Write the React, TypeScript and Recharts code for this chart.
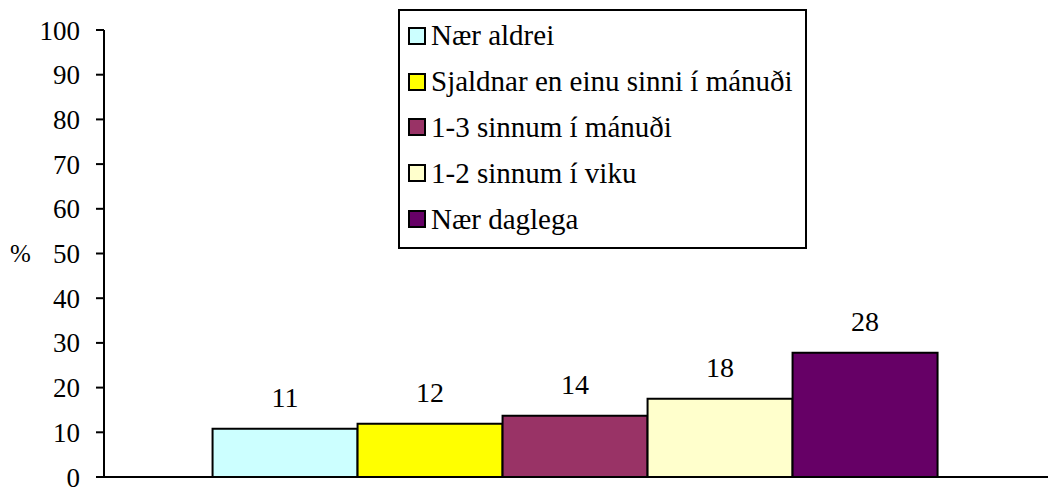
import { BarChart, Bar, XAxis, YAxis, LabelList, Legend } from "recharts";

const seriesNames = [
  "Nær aldrei",
  "Sjaldnar en einu sinni í mánuði",
  "1-3 sinnum í mánuði",
  "1-2 sinnum í viku",
  "Nær daglega",
];
const seriesKeys = ["s0", "s1", "s2", "s3", "s4"];
const seriesValues = [10.8, 11.9, 13.7, 17.5, 27.8];
const seriesColors = ["#CCFFFF", "#FFFF00", "#993366", "#FFFFCC", "#660066"];
const yTicks = [0, 10, 20, 30, 40, 50, 60, 70, 80, 90, 100];

const row: Record<string, number | string> = { name: "" };
seriesKeys.forEach((k, i) => { row[k] = seriesValues[i]; });
const data = [row];

const FONT = "'Liberation Serif', 'Times New Roman', serif";

const ValueLabel = (props: any) => {
  const { x, y, width, value } = props;
  return (
    <text x={x + width / 2} y={y - 22} textAnchor="middle" fontFamily={FONT} fontSize={28} fill="#000">
      {Math.round(value)}
    </text>
  );
};

const LegendBox = () => (
  <div style={{
    border: "2px solid #000", background: "#fff", width: 405, height: 234,
    boxSizing: "content-box", fontFamily: FONT, fontSize: 29, color: "#000",
    paddingTop: 2, textAlign: "left",
  }}>
    {seriesNames.map((n, i) => (
      <div key={n} style={{ display: "flex", alignItems: "center", height: 45.8, paddingLeft: 8, whiteSpace: "nowrap" }}>
        <span style={{
          display: "inline-block", width: 14, height: 14, background: seriesColors[i],
          border: "2px solid #000", marginRight: 5, flexShrink: 0,
        }} />
        <span>{n}</span>
      </div>
    ))}
  </div>
);

export default function App() {
  return (
    <div style={{ position: "absolute", left: 0, top: 0, width: 1048, height: 487, background: "#fff" }}>
      <BarChart
        width={1048}
        height={487}
        data={data}
        margin={{ top: 30, right: 0, bottom: 9, left: 0 }}
        barGap={0}
        barCategoryGap="11.5%"
      >
        <XAxis dataKey="name" tick={false} tickLine={false} height={1}
          axisLine={{ stroke: "#000", strokeWidth: 2 }} />
        <YAxis
          domain={[0, 100]}
          ticks={yTicks}
          interval={0}
          width={104}
          tickSize={8}
          tickMargin={16}
          axisLine={{ stroke: "#000", strokeWidth: 2 }}
          tickLine={{ stroke: "#000", strokeWidth: 2 }}
          tick={{ fontFamily: FONT, fontSize: 27, fill: "#000" }}
          label={(p: any) => (
            <text x={10} y={p.viewBox.y + p.viewBox.height / 2} dominantBaseline="central"
              fontFamily={FONT} fontSize={25} fill="#000">%</text>
          )}
        />
        <Legend
          layout="vertical"
          align="center"
          verticalAlign="middle"
          content={<LegendBox />}
          wrapperStyle={{ position: "absolute", left: 398, top: 9, width: "auto", height: "auto" }}
        />
        {seriesKeys.map((k, i) => (
          <Bar key={k} dataKey={k} name={seriesNames[i]} fill={seriesColors[i]}
            stroke="#000" strokeWidth={2} isAnimationActive={false}>
            <LabelList dataKey={k} content={<ValueLabel />} />
          </Bar>
        ))}
      </BarChart>
    </div>
  );
}
